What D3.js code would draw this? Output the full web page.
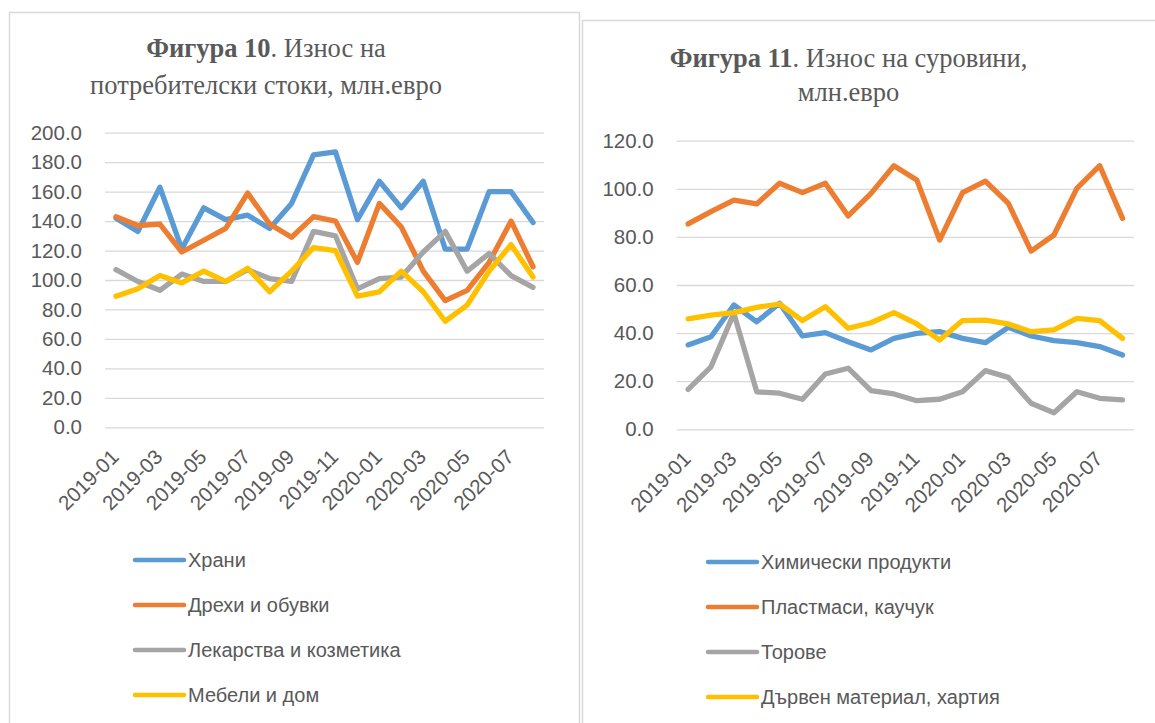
<!DOCTYPE html>
<html>
<head>
<meta charset="utf-8">
<script src="https://cdn.jsdelivr.net/npm/d3@7"></script>
<style>
  body { margin: 0; background: #fff; }
  svg { display: block; }
  .title { font-family: 'Liberation Serif', 'Times New Roman', serif; fill: #595959; }
  .axis text, .legend text { font-family: 'Liberation Sans', Arial, sans-serif; fill: #595959; }
</style>
</head>
<body>
<svg width="1155" height="723"></svg>
<script>
// months on the category axis
var months = ['2019-01','2019-02','2019-03','2019-04','2019-05','2019-06','2019-07','2019-08','2019-09','2019-10',
  '2019-11','2019-12','2020-01','2020-02','2020-03','2020-04','2020-05','2020-06','2020-07','2020-08'];
var xTickLabels = ['2019-01','2019-03','2019-05','2019-07','2019-09','2019-11','2020-01','2020-03','2020-05','2020-07'];

// Фигура 10
var consumerNames = ['Храни', 'Дрехи и обувки', 'Лекарства и козметика', 'Мебели и дом'];
var food = [142, 133, 163, 121, 149, 141, 144, 135, 152, 185, 187, 141, 167, 149, 167, 121, 121, 160, 160, 139];
var clothes = [143, 137, 138, 119, 127, 135, 159, 138, 129, 143, 140, 112, 152, 136, 106, 86, 93, 112, 140, 109];
var medicines = [107, 99, 93, 104, 99, 99, 107, 101, 99, 133, 130, 94, 101, 102, 119, 133, 106, 118, 103, 95];
var furniture = [89, 94, 103, 98, 106, 99, 108, 92, 106, 122, 120, 89, 92, 106, 92, 72, 83, 106, 124, 102];
var consumerTicks = [0, 20, 40, 60, 80, 100, 120, 140, 160, 180, 200];

// Фигура 11
var rawNames = ['Химически продукти', 'Пластмаси, каучук', 'Торове', 'Дървен материал, хартия'];
var chemicals = [35.1, 38.5, 51.7, 44.7, 52.4, 38.8, 40.2, 36.4, 33.0, 37.8, 39.9, 40.6, 37.8, 36.0, 42.4, 38.8, 36.9, 36.0, 34.4, 30.9];
var plastics = [85.4, 90.5, 95.3, 93.7, 102.3, 98.4, 102.3, 88.7, 98.1, 109.6, 103.7, 78.7, 98.4, 103.2, 94.0, 74.1, 80.8, 100.2, 109.6, 87.7];
var fertilizers = [16.6, 26.0, 48.2, 15.6, 15.0, 12.5, 23.0, 25.4, 16.1, 14.7, 11.9, 12.5, 15.6, 24.4, 21.6, 10.8, 6.9, 15.6, 12.9, 12.2];
var wood = [45.9, 47.5, 48.5, 50.7, 52.1, 45.2, 51.0, 42.0, 44.3, 48.5, 43.8, 37.1, 45.2, 45.4, 43.8, 40.6, 41.3, 46.1, 45.2, 37.8];
var rawTicks = [0, 20, 40, 60, 80, 100, 120];

var colors = ['#5B9BD5', '#ED7D31', '#A5A5A5', '#FFC000'];

var svg = d3.select('svg');

// chart frames
svg.append('rect').attr('x', 9.5).attr('y', 12.5).attr('width', 570).attr('height', 760)
  .attr('fill', 'none').attr('stroke', '#d9d9d9').attr('stroke-width', 1.5);
svg.append('rect').attr('x', 582.5).attr('y', 20.5).attr('width', 640).attr('height', 760)
  .attr('fill', 'none').attr('stroke', '#d9d9d9').attr('stroke-width', 1.5);

function drawChart(opt) {
  var g = svg.append('g');

  var x = d3.scaleBand().domain(months).range([opt.left, opt.right]);
  var y = d3.scaleLinear().domain([0, d3.max(opt.ticks)]).range([opt.bottom, opt.top]);

  // title
  var t = g.append('text').attr('class', 'title')
    .attr('x', opt.titleX).attr('y', opt.titleY[0])
    .attr('text-anchor', 'middle').style('font-size', '26.5px');
  t.append('tspan').style('font-weight', 'bold').text(opt.titleBold);
  t.append('tspan').text(opt.title1);
  g.append('text').attr('class', 'title')
    .attr('x', opt.titleX).attr('y', opt.titleY[1])
    .attr('text-anchor', 'middle').style('font-size', '26.5px')
    .text(opt.title2);

  // y axis + gridlines
  var yAxis = g.append('g').attr('class', 'axis')
    .attr('transform', 'translate(' + opt.left + ',0)')
    .call(d3.axisLeft(y).tickValues(opt.ticks).tickFormat(d3.format('.1f'))
      .tickSize(-(opt.right - opt.left)).tickPadding(23));
  yAxis.select('.domain').remove();
  yAxis.selectAll('line').attr('stroke', '#d9d9d9').attr('stroke-width', 1.3);
  yAxis.selectAll('text').style('font-size', '20.5px');

  // x axis
  var xAxis = g.append('g').attr('class', 'axis')
    .attr('transform', 'translate(0,' + opt.bottom + ')')
    .call(d3.axisBottom(x).tickValues(xTickLabels).tickSize(0));
  xAxis.select('.domain').remove();
  xAxis.selectAll('text')
    .style('font-size', '20.5px')
    .style('text-anchor', 'end')
    .attr('y', 0).attr('dy', 0)
    .attr('transform', 'translate(4,31) rotate(-45)');

  // lines
  var line = d3.line()
    .x(function(d, i) { return x(months[i]) + x.bandwidth() / 2; })
    .y(function(d) { return y(d); });

  g.selectAll('path.series')
    .data(opt.series)
    .enter()
    .append('path')
    .attr('class', 'series')
    .attr('d', line)
    .attr('fill', 'none')
    .attr('stroke', function(d, i) { return colors[i]; })
    .attr('stroke-width', 5.3)
    .attr('stroke-linejoin', 'round')
    .attr('stroke-linecap', 'round');

  // legend
  var legend = g.selectAll('g.legend')
    .data(opt.names)
    .enter()
    .append('g')
    .attr('class', 'legend')
    .attr('transform', function(d, i) { return 'translate(' + opt.legendX + ',' + (opt.legendY + i * 45) + ')'; });
  legend.append('line')
    .attr('x1', 0).attr('x2', 49)
    .attr('stroke', function(d, i) { return colors[i]; })
    .attr('stroke-width', 4.5)
    .attr('stroke-linecap', 'round');
  legend.append('text')
    .attr('x', 53).attr('dy', '0.35em')
    .style('font-size', '20px')
    .text(function(d) { return d; });
}

drawChart({
  left: 105, right: 544, top: 132.7, bottom: 427.3,
  ticks: consumerTicks,
  series: [food, clothes, medicines, furniture],
  names: consumerNames,
  titleX: 266, titleY: [57, 94],
  titleBold: 'Фигура 10', title1: '. Износ на', title2: 'потребителски стоки, млн.евро',
  legendX: 135, legendY: 560
});

drawChart({
  left: 676.7, right: 1134, top: 140.7, bottom: 429.3,
  ticks: rawTicks,
  series: [chemicals, plastics, fertilizers, wood],
  names: rawNames,
  titleX: 848.5, titleY: [67, 101],
  titleBold: 'Фигура 11', title1: '. Износ на суровини,', title2: 'млн.евро',
  legendX: 708, legendY: 562
});
</script>
</body>
</html>
